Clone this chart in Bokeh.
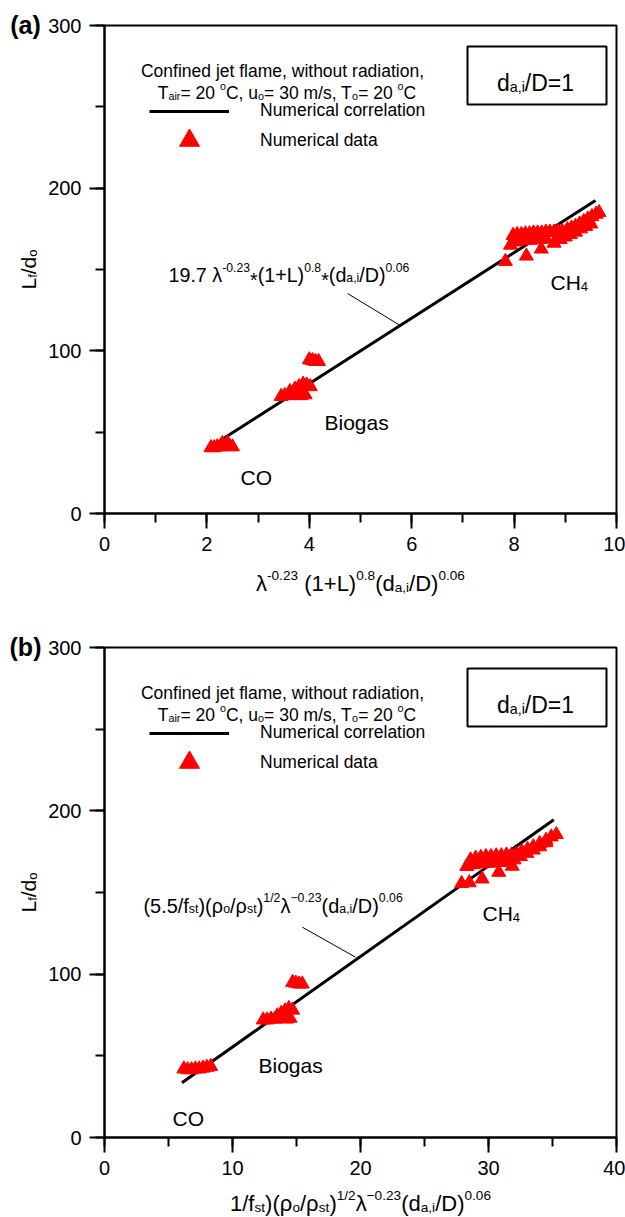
import math
from bokeh.plotting import figure
from bokeh.models import (Range1d, SingleIntervalTicker, Label, Legend, LegendItem, BoxAnnotation)
from bokeh.layouts import column
from bokeh.embed import file_html
from bokeh.resources import INLINE

# ---------------- data ----------------
# panel (a)
line_a_x = [2.07, 9.59]
line_a_y = [41.0, 192.4]
co_a_x = [2.08, 2.14, 2.2, 2.26, 2.32, 2.38, 2.44, 2.5, 2.3, 2.4]
co_a_y = [40.5, 40.5, 41.0, 41.0, 41.5, 41.5, 41.5, 41.0, 43.0, 43.5]
biogas_a_x = [3.45, 3.52, 3.6, 3.68, 3.76, 3.84, 3.92, 3.62, 3.72, 3.8, 3.88, 3.95, 4.02,
              4.0, 4.06, 4.12, 4.18]
biogas_a_y = [72.0, 72.5, 72.5, 73.0, 73.0, 72.5, 73.0, 75.0, 76.5, 78.0, 79.5, 79.0, 78.0,
              94.5, 94.0, 93.5, 93.5]
ch4_a_x = [7.83, 8.24, 8.53, 8.78,
           7.98, 8.06, 8.14, 8.22, 8.3, 8.38, 8.46, 8.54, 8.62, 8.7, 8.78, 8.86, 8.94,
           7.93, 8.02, 8.12, 8.22, 8.32, 8.42, 8.52, 8.62,
           9.04, 9.12, 9.2, 9.28, 9.36, 9.44, 9.52, 9.6, 9.66,
           8.9, 9.0, 9.1, 9.2, 9.3, 9.4, 9.5]
ch4_a_y = [155.0, 158.3, 162.6, 166.2,
           171.0, 171.5, 171.5, 172.0, 172.0, 172.5, 172.5, 172.5, 173.0, 173.0, 173.0, 173.5, 173.5,
           165.0, 167.0, 167.5, 168.0, 168.0, 168.5, 168.5, 169.0,
           174.5, 175.5, 176.5, 178.0, 179.5, 181.0, 182.5, 184.0, 185.0,
           168.5, 170.0, 171.5, 173.0, 175.0, 176.5, 178.0]
leader_a_x = [4.75, 5.78]
leader_a_y = [135.2, 115.5]

# panel (b)
line_b_x = [6.05, 35.1]
line_b_y = [33.5, 194.5]
co_b_x = [6.2, 6.5, 6.8, 7.1, 7.4, 7.7, 8.0, 8.3]
co_b_y = [42.0, 41.5, 41.5, 42.0, 42.0, 42.5, 43.0, 43.5]
biogas_b_x = [12.4, 12.7, 13.0, 13.3, 13.6, 13.9, 14.2, 14.5, 13.5, 13.8, 14.1, 14.4, 14.7,
              14.7, 14.95, 15.2, 15.45]
biogas_b_y = [72.0, 72.0, 72.5, 72.5, 73.0, 73.0, 72.5, 73.0, 74.5, 76.0, 77.5, 79.0, 78.0,
              95.0, 94.5, 94.0, 94.0]
ch4_b_x = [27.9, 28.5, 29.5, 30.8, 31.85,
           28.6, 29.0, 29.4, 29.8, 30.2, 30.6, 31.0, 31.4, 31.8, 32.2,
           28.3, 28.8, 29.3, 29.8, 30.3, 30.8, 31.3,
           32.6, 33.05, 33.5, 34.0, 34.5, 34.9, 35.3,
           32.0, 32.5, 33.0, 33.5, 34.0, 34.5]
ch4_b_y = [155.5, 156.0, 158.3, 162.4, 166.1,
           170.0, 171.0, 171.5, 172.0, 172.0, 172.5, 172.5, 173.0, 173.0, 173.5,
           166.0, 167.0, 167.5, 168.0, 168.0, 168.5, 168.5,
           175.0, 176.5, 178.0, 180.0, 182.0, 184.0, 185.5,
           170.0, 172.0, 174.0, 176.0, 178.0, 180.5]
leader_b_x = [15.45, 19.61]
leader_b_y = [128.8, 110.4]

x_range_a = (0, 10)
x_range_b = (0, 40)
y_range_ab = (0, 300)
x_tick_a = 2
x_tick_b = 10
y_tick = 100

# ---------------- text helpers ----------------
FONT = "Liberation Sans"
W = {' ': .278, '(': .333, ')': .333, '*': .389, '+': .584, ',': .278, '-': .333, '.': .278,
     '/': .278, '=': .584, 'A': .667, 'B': .667, 'C': .722, 'D': .722, 'H': .722, 'L': .556,
     'N': .722, 'O': .778, 'T': .611, 'a': .556, 'b': .556, 'c': .5, 'd': .556, 'e': .556,
     'f': .278, 'g': .556, 'h': .556, 'i': .222, 'j': .222, 'l': .222, 'm': .833, 'n': .556,
     'o': .556, 'r': .333, 's': .5, 't': .278, 'u': .556, 'w': .722, 'λ': .5, 'ρ': .577,
     '−': .584}
for _d in "0123456789":
    W[_d] = .556

CANVAS_W = 625
PLOT_L, PLOT_R = 104, 616   # pixel columns of the plotted box


def tw(s, fs):
    return sum(W.get(ch, .556) for ch in s) * fs


class Placer:
    """positions given relative to the plotted box's bottom-left corner (y up)"""

    def __init__(self, p, ox, oy):
        self.p, self.ox, self.oy = p, ox, oy

    def rich(self, runs, x, y, size, anchor="left", angle=0.0, small=0.62):
        p = self.p
        ss = size * small
        sizes = [size if k in ("n", "low") else ss for _, k in runs]
        widths = [tw(t, s) for (t, _), s in zip(runs, sizes)]
        total = sum(widths)
        rot = angle != 0.0
        along0 = y if rot else x
        perp = x if rot else y
        pos = along0 - total / 2 if anchor == "center" else along0
        for (t, k), fs, w in zip(runs, sizes, widths):
            off = {"n": 0.0, "sub": -0.2 * size, "sup": 0.38 * size, "low": -0.28 * size}[k]
            lead = len(t) - len(t.lstrip(' '))
            txt = t.strip(' ')
            start = pos + lead * W[' '] * fs
            if txt:
                if rot:
                    lx, ly = perp - off, start
                else:
                    lx, ly = start, perp + off
                p.add_layout(Label(x=lx + self.ox, y=ly + self.oy, x_units="screen", y_units="screen",
                                   text=txt, text_font=FONT, text_font_size=f"{fs:.1f}px",
                                   text_color="black", text_align="left",
                                   text_baseline="alphabetic", angle=angle))
            pos += w


def make_panel(tag, height, ftop, fbot, xr, xtick, line_x, line_y, groups, leader_x, leader_y,
               formula_runs, formula_xy, formula_size, title_runs, title_y, labels):
    FH = fbot - ftop                    # plotted box height in px
    oy = height - fbot                  # px below the plotted box
    # ranges that make the plotted box land on the wanted pixels while the frame fills the canvas
    sx = (PLOT_R - PLOT_L) / (xr[1] - xr[0])
    sy = FH / (y_range_ab[1] - y_range_ab[0])
    xr_full = (xr[0] - PLOT_L / sx, xr[1] + (CANVAS_W - PLOT_R) / sx)
    yr_full = (y_range_ab[0] - oy / sy, y_range_ab[1] + ftop / sy)

    p = figure(width=CANVAS_W, height=height, output_backend="svg", toolbar_location=None,
               x_range=Range1d(*xr_full), y_range=Range1d(*yr_full),
               min_border=0, min_border_left=0, min_border_right=0,
               min_border_top=0, min_border_bottom=0)
    p.xgrid.visible = False
    p.ygrid.visible = False
    p.outline_line_color = None
    p.background_fill_color = "white"
    p.border_fill_color = "white"

    p.xaxis.fixed_location = y_range_ab[0]
    p.yaxis.fixed_location = xr[0]
    p.xaxis.bounds = xr
    p.yaxis.bounds = y_range_ab
    p.xaxis.ticker = SingleIntervalTicker(interval=xtick, num_minor_ticks=2)
    p.yaxis.ticker = SingleIntervalTicker(interval=y_tick, num_minor_ticks=2)
    for ax in (p.xaxis, p.yaxis):
        ax.axis_line_width = 2
        ax.axis_line_color = "black"
        ax.major_tick_line_width = 2
        ax.minor_tick_line_width = 2
        ax.major_tick_line_color = "black"
        ax.minor_tick_line_color = "black"
        ax.major_tick_in = 0
        ax.major_tick_out = 15
        ax.minor_tick_in = 0
        ax.minor_tick_out = 9
        ax.major_label_text_font = FONT
        ax.major_label_text_font_size = "20px"
        ax.major_label_text_color = "black"
        ax.major_label_standoff = 8

    # plotted box outline
    p.add_layout(BoxAnnotation(left=xr[0], right=xr[1], bottom=y_range_ab[0], top=y_range_ab[1],
                               fill_alpha=0, line_color="black", line_width=2, line_alpha=1))

    r_line = p.line(line_x, line_y, line_width=3, color="black")
    r_pts = None
    for gx, gy in groups:
        r = p.scatter(gx, gy, marker="triangle", size=14, fill_color="#ff0000", line_color="#ff0000")
        if r_pts is None:
            r_pts = r
    p.line(leader_x, leader_y, line_width=1, color="black")

    ox = PLOT_L
    pl = Placer(p, ox, oy)

    # legend
    common = dict(glyph_width=80, label_standoff=31, padding=0, margin=0, spacing=0,
                  border_line_alpha=0, background_fill_alpha=0, label_text_font=FONT,
                  label_text_font_size="17.5px", label_text_color="black", label_height=20)
    leg1 = Legend(items=[LegendItem(label="Numerical correlation", renderers=[r_line])],
                  location=(45 + ox, FH - 96 + oy), glyph_height=20, **common)
    leg2 = Legend(items=[LegendItem(label="Numerical data", renderers=[r_pts])],
                  location=(45 + ox, FH - 140 + oy), glyph_height=50, **common)
    p.add_layout(leg1)
    p.add_layout(leg2)

    pl.rich([("Confined jet flame, without radiation,", "n")], 178, FH - 45, 17.5, anchor="center")
    pl.rich([("T", "n"), ("air", "sub"), ("= 20 ", "n"), ("o", "sup"), ("C, u", "n"), ("o", "sub"),
             ("= 30 m/s, T", "n"), ("o", "sub"), ("= 20 ", "n"), ("o", "sup"), ("C", "n")],
            182.5, FH - 67, 17.5, anchor="center")

    p.add_layout(BoxAnnotation(left=363 + ox, right=502 + ox, top=FH - 21 + oy, bottom=FH - 79 + oy,
                               left_units="screen", right_units="screen",
                               top_units="screen", bottom_units="screen",
                               fill_alpha=0, line_color="black", line_width=2, line_alpha=1))
    pl.rich([("d", "n"), ("a,i", "sub"), ("/D=1", "n")], 431, FH - 57, 23, anchor="center")

    # formula annotation
    pl.rich(formula_runs, formula_xy[0], formula_xy[1], formula_size)
    # gas labels
    for runs, lx, ly in labels:
        pl.rich(runs, lx, ly, 21)
    # x axis title
    pl.rich(title_runs, 256, title_y, 22, anchor="center")
    # y axis title (rotated)
    pl.rich([("L", "n"), ("f", "sub"), ("/d", "n"), ("o", "sub")], -76, FH / 2, 21,
            anchor="center", angle=math.pi / 2)
    # panel tag
    p.add_layout(Label(x=-79 + ox, y=FH + 1 + oy, x_units="screen", y_units="screen", text=tag,
                       text_font=FONT, text_font_style="bold", text_font_size="25px",
                       text_color="black", text_align="center", text_baseline="middle"))
    return p


p1 = make_panel(
    "(a)", 608, 25, 513, x_range_a, x_tick_a, line_a_x, line_a_y,
    [(co_a_x, co_a_y), (biogas_a_x, biogas_a_y), (ch4_a_x, ch4_a_y)], leader_a_x, leader_a_y,
    [("19.7 λ", "n"), ("-0.23", "sup"), ("*", "low"), ("(1+L)", "n"), ("0.8", "sup"), ("*", "low"),
     ("(d", "n"), ("a,i", "sub"), ("/D)", "n"), ("0.06", "sup")], (64, 239), 19.7,
    [("λ", "n"), ("-0.23", "sup"), (" (1+L)", "n"), ("0.8", "sup"), ("(d", "n"), ("a,i", "sub"),
     ("/D)", "n"), ("0.06", "sup")], -70,
    [([("CO", "n")], 136, 36), ([("Biogas", "n")], 220, 91), ([("CH", "n"), ("4", "sub")], 446, 231)])

p2 = make_panel(
    "(b)", 609, 39, 529, x_range_b, x_tick_b, line_b_x, line_b_y,
    [(co_b_x, co_b_y), (biogas_b_x, biogas_b_y), (ch4_b_x, ch4_b_y)], leader_b_x, leader_b_y,
    [("(5.5/f", "n"), ("st", "sub"), (")(ρ", "n"), ("o", "sub"), ("/ρ", "n"), ("st", "sub"),
     (")", "n"), ("1/2", "sup"), ("λ", "n"), ("−0.23", "sup"), ("(d", "n"), ("a,i", "sub"),
     ("/D)", "n"), ("0.06", "sup")], (39, 232), 19.9,
    [("1/f", "n"), ("st", "sub"), (")(ρ", "n"), ("o", "sub"), ("/ρ", "n"), ("st", "sub"),
     (")", "n"), ("1/2", "sup"), ("λ", "n"), ("−0.23", "sup"), ("(d", "n"), ("a,i", "sub"),
     ("/D)", "n"), ("0.06", "sup")], -66,
    [([("CO", "n")], 68, 19), ([("Biogas", "n")], 154, 72), ([("CH", "n"), ("4", "sub")], 378, 224)])

layout = column(p1, p2, spacing=0)
open("out.html", "w").write(file_html(layout, INLINE))
